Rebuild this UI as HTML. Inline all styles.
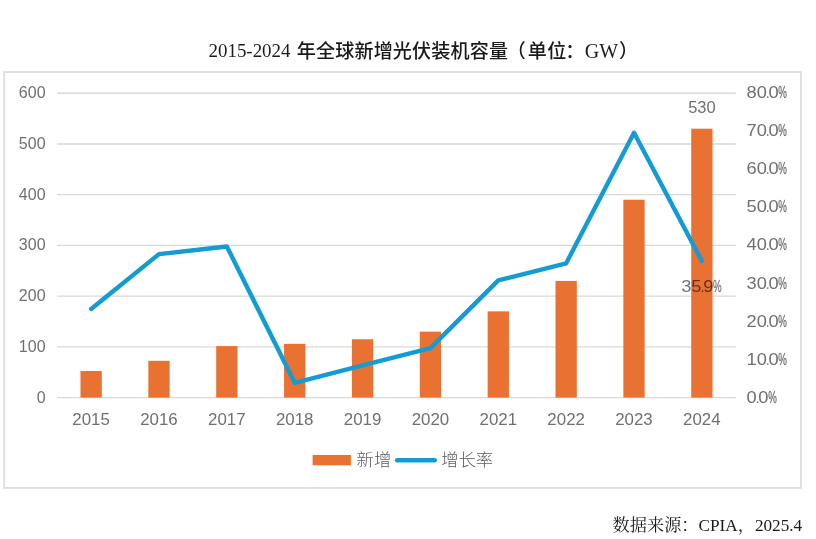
<!DOCTYPE html>
<html lang="zh-CN"><head><meta charset="utf-8"><title>2015-2024 年全球新增光伏装机容量</title>
<style>html,body{margin:0;padding:0;background:#fff}body{width:816px;height:539px;overflow:hidden}svg{display:block}.ax{font-family:"Liberation Sans","Noto Sans CJK SC",sans-serif;font-size:17px;fill:#707070}.pc{stroke:#707070;stroke-width:.55px;stroke-opacity:.55}.lg{font-family:"Liberation Sans","Noto Sans CJK SC",sans-serif;font-size:17.3px;font-weight:300;fill:#5c5c5c}.tl{font-family:"Liberation Serif","Noto Serif CJK SC",serif;font-size:19.1px;fill:#1a1a1a}.th{font-family:"Liberation Sans","Noto Sans CJK SC",sans-serif;font-size:19.1px;font-weight:500;fill:#1a1a1a}.src{font-family:"Liberation Serif","Noto Serif CJK SC",serif;font-size:17.2px;fill:#1a1a1a}</style></head><body>
<svg width="816" height="539" viewBox="0 0 816 539">
<rect x="0" y="0" width="816" height="539" fill="#ffffff"/>
<rect x="4.2" y="72.05" width="796.8" height="415.85" fill="#ffffff" stroke="#dfdfdf" stroke-width="1.9"/>
<line x1="57.2" y1="397.60" x2="735.8" y2="397.60" stroke="#d9d9d9" stroke-width="1.4"/>
<line x1="57.2" y1="346.87" x2="735.8" y2="346.87" stroke="#d9d9d9" stroke-width="1.4"/>
<line x1="57.2" y1="296.13" x2="735.8" y2="296.13" stroke="#d9d9d9" stroke-width="1.4"/>
<line x1="57.2" y1="245.40" x2="735.8" y2="245.40" stroke="#d9d9d9" stroke-width="1.4"/>
<line x1="57.2" y1="194.67" x2="735.8" y2="194.67" stroke="#d9d9d9" stroke-width="1.4"/>
<line x1="57.2" y1="143.93" x2="735.8" y2="143.93" stroke="#d9d9d9" stroke-width="1.4"/>
<line x1="57.2" y1="93.20" x2="735.8" y2="93.20" stroke="#d9d9d9" stroke-width="1.4"/>
<rect x="80.48" y="370.97" width="21.30" height="26.63" fill="#e97132"/>
<rect x="148.34" y="360.82" width="21.30" height="36.78" fill="#e97132"/>
<rect x="216.20" y="346.11" width="21.30" height="51.49" fill="#e97132"/>
<rect x="284.06" y="343.82" width="21.30" height="53.78" fill="#e97132"/>
<rect x="351.92" y="339.26" width="21.30" height="58.34" fill="#e97132"/>
<rect x="419.78" y="331.65" width="21.30" height="65.95" fill="#e97132"/>
<rect x="487.64" y="311.35" width="21.30" height="86.25" fill="#e97132"/>
<rect x="555.50" y="280.91" width="21.30" height="116.69" fill="#e97132"/>
<rect x="623.36" y="199.74" width="21.30" height="197.86" fill="#e97132"/>
<rect x="691.22" y="128.71" width="21.30" height="268.89" fill="#e97132"/>
<polyline points="91.13,308.94 158.99,254.15 226.85,246.54 294.71,382.76 362.57,365.26 430.43,348.13 498.29,280.41 566.15,263.28 634.01,132.77 701.87,261.00" fill="none" stroke="#139cd3" stroke-width="4.4" stroke-linecap="round" stroke-linejoin="round"/>
<text class="ax" x="36.64" y="402.50" textLength="8.89" lengthAdjust="spacingAndGlyphs">0</text>
<text class="ax" x="18.86" y="351.77" textLength="26.66" lengthAdjust="spacingAndGlyphs">100</text>
<text class="ax" x="18.86" y="301.03" textLength="26.66" lengthAdjust="spacingAndGlyphs">200</text>
<text class="ax" x="18.86" y="250.30" textLength="26.66" lengthAdjust="spacingAndGlyphs">300</text>
<text class="ax" x="18.86" y="199.57" textLength="26.66" lengthAdjust="spacingAndGlyphs">400</text>
<text class="ax" x="18.86" y="148.83" textLength="26.66" lengthAdjust="spacingAndGlyphs">500</text>
<text class="ax" x="18.86" y="98.10" textLength="26.66" lengthAdjust="spacingAndGlyphs">600</text>
<text class="ax" y="403.00"><tspan x="746.50" textLength="10.18" lengthAdjust="spacingAndGlyphs">0</tspan><tspan x="755.88" textLength="3.50" lengthAdjust="spacingAndGlyphs">.</tspan><tspan x="758.28" textLength="10.18" lengthAdjust="spacingAndGlyphs">0</tspan><tspan x="768.17" textLength="8.59" lengthAdjust="spacingAndGlyphs" class="pc">%</tspan></text>
<text class="ax" y="365.00"><tspan x="746.50" textLength="10.18" lengthAdjust="spacingAndGlyphs">1</tspan><tspan x="756.68" textLength="10.18" lengthAdjust="spacingAndGlyphs">0</tspan><tspan x="766.07" textLength="3.50" lengthAdjust="spacingAndGlyphs">.</tspan><tspan x="768.47" textLength="10.18" lengthAdjust="spacingAndGlyphs">0</tspan><tspan x="778.35" textLength="8.59" lengthAdjust="spacingAndGlyphs" class="pc">%</tspan></text>
<text class="ax" y="327.00"><tspan x="746.50" textLength="10.18" lengthAdjust="spacingAndGlyphs">2</tspan><tspan x="756.68" textLength="10.18" lengthAdjust="spacingAndGlyphs">0</tspan><tspan x="766.07" textLength="3.50" lengthAdjust="spacingAndGlyphs">.</tspan><tspan x="768.47" textLength="10.18" lengthAdjust="spacingAndGlyphs">0</tspan><tspan x="778.35" textLength="8.59" lengthAdjust="spacingAndGlyphs" class="pc">%</tspan></text>
<text class="ax" y="289.00"><tspan x="746.50" textLength="10.18" lengthAdjust="spacingAndGlyphs">3</tspan><tspan x="756.68" textLength="10.18" lengthAdjust="spacingAndGlyphs">0</tspan><tspan x="766.07" textLength="3.50" lengthAdjust="spacingAndGlyphs">.</tspan><tspan x="768.47" textLength="10.18" lengthAdjust="spacingAndGlyphs">0</tspan><tspan x="778.35" textLength="8.59" lengthAdjust="spacingAndGlyphs" class="pc">%</tspan></text>
<text class="ax" y="250.00"><tspan x="746.50" textLength="10.18" lengthAdjust="spacingAndGlyphs">4</tspan><tspan x="756.68" textLength="10.18" lengthAdjust="spacingAndGlyphs">0</tspan><tspan x="766.07" textLength="3.50" lengthAdjust="spacingAndGlyphs">.</tspan><tspan x="768.47" textLength="10.18" lengthAdjust="spacingAndGlyphs">0</tspan><tspan x="778.35" textLength="8.59" lengthAdjust="spacingAndGlyphs" class="pc">%</tspan></text>
<text class="ax" y="212.00"><tspan x="746.50" textLength="10.18" lengthAdjust="spacingAndGlyphs">5</tspan><tspan x="756.68" textLength="10.18" lengthAdjust="spacingAndGlyphs">0</tspan><tspan x="766.07" textLength="3.50" lengthAdjust="spacingAndGlyphs">.</tspan><tspan x="768.47" textLength="10.18" lengthAdjust="spacingAndGlyphs">0</tspan><tspan x="778.35" textLength="8.59" lengthAdjust="spacingAndGlyphs" class="pc">%</tspan></text>
<text class="ax" y="174.00"><tspan x="746.50" textLength="10.18" lengthAdjust="spacingAndGlyphs">6</tspan><tspan x="756.68" textLength="10.18" lengthAdjust="spacingAndGlyphs">0</tspan><tspan x="766.07" textLength="3.50" lengthAdjust="spacingAndGlyphs">.</tspan><tspan x="768.47" textLength="10.18" lengthAdjust="spacingAndGlyphs">0</tspan><tspan x="778.35" textLength="8.59" lengthAdjust="spacingAndGlyphs" class="pc">%</tspan></text>
<text class="ax" y="136.00"><tspan x="746.50" textLength="10.18" lengthAdjust="spacingAndGlyphs">7</tspan><tspan x="756.68" textLength="10.18" lengthAdjust="spacingAndGlyphs">0</tspan><tspan x="766.07" textLength="3.50" lengthAdjust="spacingAndGlyphs">.</tspan><tspan x="768.47" textLength="10.18" lengthAdjust="spacingAndGlyphs">0</tspan><tspan x="778.35" textLength="8.59" lengthAdjust="spacingAndGlyphs" class="pc">%</tspan></text>
<text class="ax" y="98.00"><tspan x="746.50" textLength="10.18" lengthAdjust="spacingAndGlyphs">8</tspan><tspan x="756.68" textLength="10.18" lengthAdjust="spacingAndGlyphs">0</tspan><tspan x="766.07" textLength="3.50" lengthAdjust="spacingAndGlyphs">.</tspan><tspan x="768.47" textLength="10.18" lengthAdjust="spacingAndGlyphs">0</tspan><tspan x="778.35" textLength="8.59" lengthAdjust="spacingAndGlyphs" class="pc">%</tspan></text>
<text class="ax" x="72.35" y="424.70" textLength="37.55" lengthAdjust="spacingAndGlyphs">2015</text>
<text class="ax" x="140.21" y="424.70" textLength="37.55" lengthAdjust="spacingAndGlyphs">2016</text>
<text class="ax" x="208.07" y="424.70" textLength="37.55" lengthAdjust="spacingAndGlyphs">2017</text>
<text class="ax" x="275.93" y="424.70" textLength="37.55" lengthAdjust="spacingAndGlyphs">2018</text>
<text class="ax" x="343.79" y="424.70" textLength="37.55" lengthAdjust="spacingAndGlyphs">2019</text>
<text class="ax" x="411.65" y="424.70" textLength="37.55" lengthAdjust="spacingAndGlyphs">2020</text>
<text class="ax" x="479.51" y="424.70" textLength="37.55" lengthAdjust="spacingAndGlyphs">2021</text>
<text class="ax" x="547.37" y="424.70" textLength="37.55" lengthAdjust="spacingAndGlyphs">2022</text>
<text class="ax" x="615.23" y="424.70" textLength="37.55" lengthAdjust="spacingAndGlyphs">2023</text>
<text class="ax" x="683.09" y="424.70" textLength="37.55" lengthAdjust="spacingAndGlyphs">2024</text>
<text class="ax" x="688.14" y="113.00" textLength="27.51" lengthAdjust="spacingAndGlyphs">530</text>
<text class="ax" y="291.60" style="fill:#000;fill-opacity:.57"><tspan x="681.20" textLength="10.18" lengthAdjust="spacingAndGlyphs">3</tspan><tspan x="691.38" textLength="10.18" lengthAdjust="spacingAndGlyphs">5</tspan><tspan x="700.77" textLength="3.50" lengthAdjust="spacingAndGlyphs">.</tspan><tspan x="703.17" textLength="10.18" lengthAdjust="spacingAndGlyphs">9</tspan><tspan x="713.05" textLength="8.59" lengthAdjust="spacingAndGlyphs" class="pc">%</tspan></text>
<rect x="312.6" y="455" width="38.3" height="10.3" fill="#e97132"/>
<text class="lg" x="356.6" y="466">新增</text>
<line x1="397.1" y1="460.2" x2="434.8" y2="460.2" stroke="#139cd3" stroke-width="4.4" stroke-linecap="round"/>
<text class="lg" x="441.2" y="466">增长率</text>
<text class="tl" x="208.5" y="57.2" textLength="82" lengthAdjust="spacingAndGlyphs">2015-2024</text>
<text class="th" y="57.6"><tspan x="296.8" textLength="211.2" lengthAdjust="spacing">年全球新增光伏装机容量</tspan><tspan x="506.7">（</tspan><tspan x="527.8">单</tspan><tspan x="547.2">位</tspan><tspan x="565.3">：</tspan><tspan class="tl" x="584.7" style="font-size:20px">GW</tspan><tspan x="619">）</tspan></text>
<text class="src" x="612.6" y="530.7">数据来源：CPIA，2025.4</text>
</svg></body></html>
